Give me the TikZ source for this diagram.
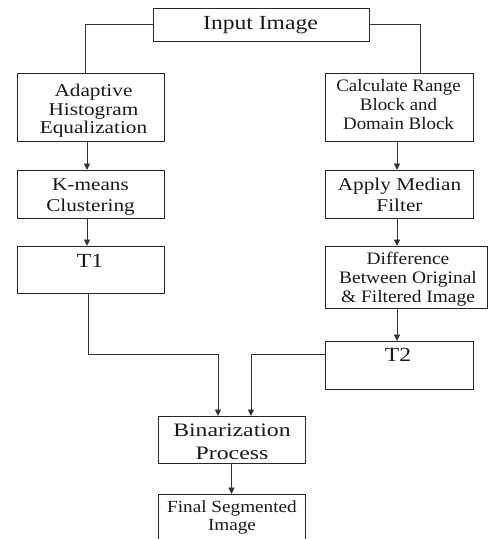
\documentclass[tikz,border=0pt]{standalone}
\usepackage{fontspec}
\setmainfont{Liberation Serif}
\newfontfamily\wideA{Liberation Serif}[FakeStretch=1.18]
\newfontfamily\wideB{Liberation Serif}[FakeStretch=1.08]
\newfontfamily\wideC{Liberation Serif}[FakeStretch=1.25]
\newfontfamily\wideD{Liberation Serif}[FakeStretch=1.11]
\newfontfamily\wideE{Liberation Serif}[FakeStretch=1.13]
\usetikzlibrary{arrows.meta}
\newcommand\tblines[1]{\begin{tabular}[t]{@{}c@{}}#1\end{tabular}}
\begin{document}
\begin{tikzpicture}[x=1pt,y=-1pt,
  box/.style={draw=black!85, line width=1pt, inner sep=0pt, outer sep=0pt},
  txt/.style={anchor=base, inner sep=0pt, text=black!90},
  conn/.style={draw=black!80, line width=0.9pt},
  arr/.style={conn, -{Triangle[length=6.5pt,width=6pt]}}]
\useasboundingbox (0,0) rectangle (488,539);
% boxes
\node[box, minimum width=216pt, minimum height=33pt] (in)  at (261,24.5) {};
\node[box, minimum width=147pt, minimum height=68pt] (ahe) at (90.5,107) {};
\node[box, minimum width=148pt, minimum height=68pt] (crb) at (399,107) {};
\node[box, minimum width=147pt, minimum height=48pt] (km)  at (90.5,194) {};
\node[box, minimum width=148pt, minimum height=48pt] (amf) at (399,194) {};
\node[box, minimum width=147pt, minimum height=47pt] (t1)  at (90.5,269.5) {};
\node[box, minimum width=162pt, minimum height=62pt] (diff) at (406,277) {};
\node[box, minimum width=148pt, minimum height=48pt] (t2)  at (399,365) {};
\node[box, minimum width=147pt, minimum height=47pt] (bin) at (231.5,439.5) {};
\node[box, minimum width=147pt, minimum height=66pt] (fin) at (231.5,527) {};
% texts
\node[txt, font=\wideA\fontsize{20}{20}\selectfont] (inT) at (260.5,29) {Input Image};
\node[txt, font=\wideA\fontsize{18}{18.4}\selectfont] (aheT) at (93.5,96.7) {\tblines{Adaptive\\Histogram\\Equalization}};
\node[txt, font=\wideB\fontsize{17.5}{18.8}\selectfont] (crbT) at (398.5,91.7) {\tblines{Calculate Range\\Block and\\Domain Block}};
\node[txt, font=\wideA\fontsize{18}{21.7}\selectfont] (kmT) at (90.5,190) {\tblines{K-means\\Clustering}};
\node[txt, font=\wideA\fontsize{18}{21}\selectfont] (amfT) at (399.5,190) {\tblines{Apply Median\\Filter}};
\node[txt, font=\wideA\fontsize{20}{20}\selectfont] (t1T) at (90,267.3) {T1};
\node[txt, font=\wideD\fontsize{17.5}{19.2}\selectfont] (diffT) at (408,264.3) {\tblines{Difference\\Between Original\\\& Filtered Image}};
\node[txt, font=\wideA\fontsize{20}{20}\selectfont] (t2T) at (398,361.7) {T2};
\node[txt, font=\wideC\fontsize{19}{23.3}\selectfont] (binT) at (232,436) {\tblines{Binarization\\Process}};
\node[txt, font=\wideE\fontsize{17}{18.4}\selectfont] (finT) at (232,512.3) {\tblines{Final Segmented\\Image}};
% helper coordinates
\coordinate (xL) at (87,0);
\coordinate (xR) at (397,0);
\coordinate (yA) at (0,354);
\coordinate (xB1) at (218,0);
\coordinate (xB2) at (251,0);
% connectors
\draw[conn] (in.west) -| (ahe.north -| 85,0);
\draw[conn] (in.east) -| (crb.north -| 420,0);
\draw[arr] (ahe.south -| xL) -- (km.north -| xL);
\draw[arr] (km.south -| xL) -- (t1.north -| xL);
\draw[arr] (crb.south -| xR) -- (amf.north -| xR);
\draw[arr] (amf.south -| xR) -- (diff.north -| xR);
\draw[arr] (diff.south -| xR) -- (t2.north -| xR);
\draw[arr] (t1.south -| 88,0) |- (xB1 |- yA) -- (bin.north -| xB1);
\draw[arr] (t2.west |- yA) -| (bin.north -| xB2);
\draw[arr] (bin.south) -- (fin.north);
\end{tikzpicture}
\end{document}
